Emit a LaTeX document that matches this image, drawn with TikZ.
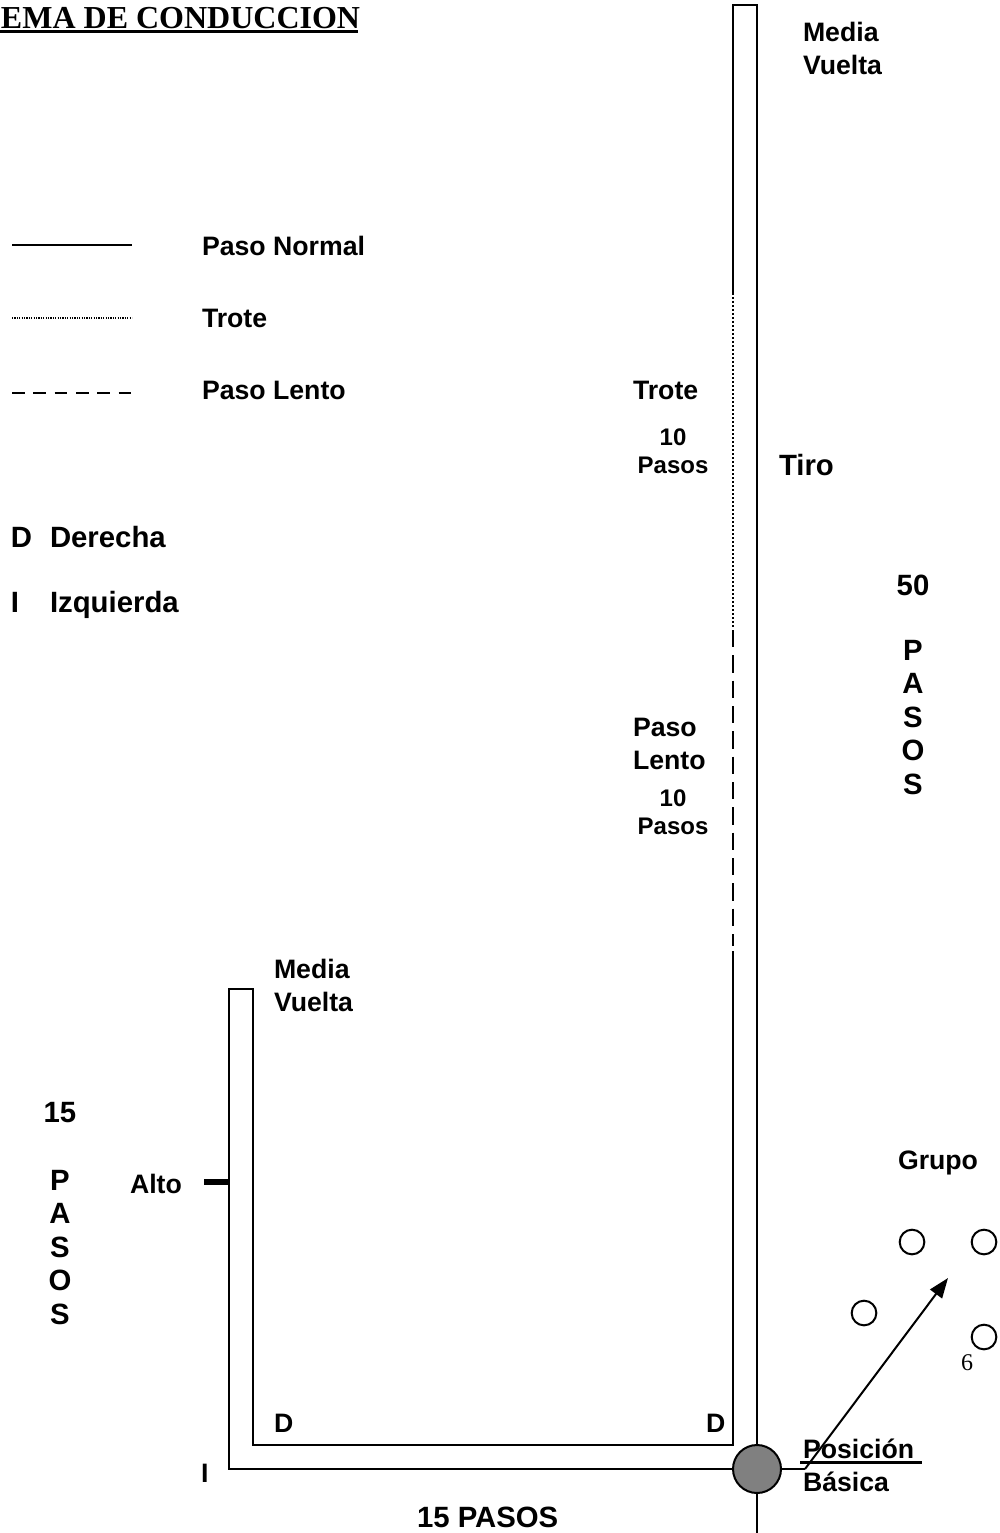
\documentclass[tikz,border=0pt]{standalone}
\usepackage{fontspec}
\setmainfont{Liberation Sans}
\newfontfamily\titlefont{Liberation Serif}
\usetikzlibrary{arrows.meta}

\newcommand{\lblfont}{\fontsize{20}{25}\selectfont\bfseries}
\newcommand{\lblbig}{\fontsize{22}{25.2}\selectfont\bfseries}
\newcommand{\lblsmall}{\fontsize{18}{21}\selectfont\bfseries}

\begin{document}
\begin{tikzpicture}[x=0.75pt, y=-0.75pt, line width=1.5pt,
  txt/.style={inner sep=0pt, font=\lblfont, align=left},
  bigtxt/.style={inner sep=0pt, font=\lblbig, align=center},
  smalltxt/.style={inner sep=0pt, font=\lblsmall, align=center},
  trote/.style={line width=1.8pt, dash pattern=on 1.5pt off 1.5pt},
  lento/.style={dash pattern=on 13pt off 6pt},
  member/.style={circle, draw, minimum size=18.5pt, inner sep=0pt}]
  \useasboundingbox (0,0) rectangle (999,1533);

  \node[inner sep=0pt, anchor=base west, font=\fontsize{24}{28}\selectfont\titlefont\bfseries] (title) at (0,29) {EMA DE CONDUCCION};
  \draw[line width=2.25pt] (0,32) -- (358,32);

  % legend
  \draw (12,245) -- (132,245);
  \draw[line width=1pt, dash pattern=on 0.9pt off 0.9pt] (12,318) -- (132,318);
  \draw[line width=1.2pt, dash pattern=on 9.6pt off 6.4pt] (12,393) -- (132,393);
  \node[txt, anchor=base west] (normal) at (201,256) {Paso Normal};
  \node[txt, anchor=base west] (trotelg) at (201,328) {Trote};
  \node[txt, anchor=base west] (lentolg) at (201,400) {Paso Lento};
  \node[inner sep=0pt, font=\lblbig, anchor=base west] (dkey) at (10,547) {D};
  \node[inner sep=0pt, font=\lblbig, anchor=base west] (der) at (49,547) {Derecha};
  \node[inner sep=0pt, font=\lblbig, anchor=base west] (ikey) at (10,612) {I};
  \node[inner sep=0pt, font=\lblbig, anchor=base west] (izq) at (49,612) {Izquierda};

  % long lane
  \draw (733,293) -- (733,5) -- (757,5) -- (757,1445);
  \draw[trote] (733,293) -- (733,627);
  \draw[lento] (733,630) -- (733,946);
  \draw (733,951) -- (733,1445) -- (253,1445) -- (253,989) -- (229,989) -- (229,1469) -- (757,1469);
  \draw[line width=4pt] (204,1182) -- (229,1182);

  \node[txt, anchor=north west] (mvtop) at (802,21) {Media\\Vuelta};
  \node[txt, anchor=base west] (trote) at (632,400) {Trote};
  \node[smalltxt, anchor=north] (diez1) at (673,428) {10\\Pasos};
  \node[inner sep=0pt, font=\lblbig, anchor=base west] (tiro) at (778,475) {Tiro};
  \node[bigtxt, anchor=base] (cincuenta) at (913,595) {50};
  \node[bigtxt, anchor=north] (pasos50) at (913,639) {P\\A\\S\\O\\S};
  \node[txt, anchor=north west] (lento) at (632,717) {Paso\\Lento};
  \node[smalltxt, anchor=north] (diez2) at (673,789) {10\\Pasos};

  % short lane
  \node[txt, anchor=north west] (mvlow) at (273,958) {Media\\Vuelta};
  \node[bigtxt, anchor=base] (quince) at (60,1122) {15};
  \node[bigtxt, anchor=north] (pasos15) at (60,1169) {P\\A\\S\\O\\S};
  \node[txt, anchor=base west] (alto) at (129,1193) {Alto};
  \node[txt, anchor=base west] (dleft) at (273,1432) {D};
  \node[txt, anchor=base west] (dright) at (705,1432) {D};
  \node[txt, anchor=base west] (ileft) at (200,1482) {I};
  \node[bigtxt, anchor=base west] (quincepasos) at (416,1527) {15 PASOS};

  % start and group
  \node[circle, draw, fill=gray, minimum size=36pt, inner sep=0pt] (pb) at (757,1469) {};
  \coordinate (start) at (805,1469);
  \coordinate (aim) at (948,1278);
  \coordinate (bottom) at (757,1533);
  \draw (pb.east) -- (start);
  \draw (pb.south) -- (bottom);
  \draw[-{Triangle[length=15pt, width=11pt]}] (start) -- (aim);
  \node[txt, anchor=base west] (posicion) at (802,1458) {Posición};
  \draw[line width=2.25pt] (800,1462) -- (922,1462);
  \node[txt, anchor=base west] (basica) at (802,1491) {Básica};

  \node[txt, anchor=base west] (grupo) at (897,1169) {Grupo};
  \node[member] (g1) at (912,1242) {};
  \node[member] (g2) at (984,1242) {};
  \node[member] (g3) at (864,1313) {};
  \node[member] (g4) at (984,1337) {};
  \node[inner sep=0pt, anchor=base, font=\fontsize{18}{20}\selectfont\titlefont] (page) at (967,1370) {6};
\end{tikzpicture}
\end{document}
